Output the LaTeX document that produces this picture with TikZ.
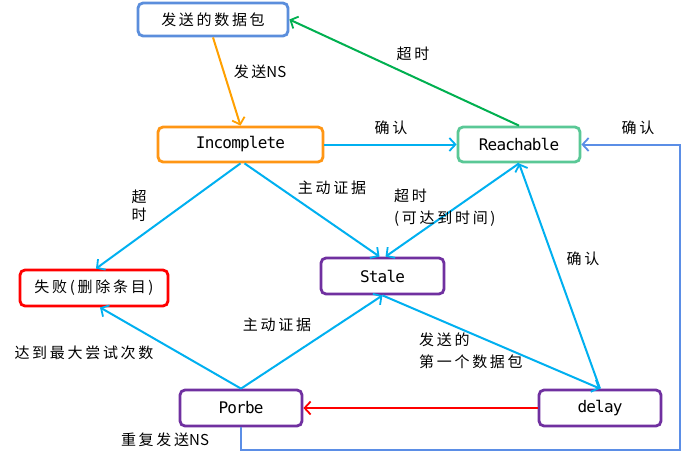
\documentclass[tikz,border=0pt]{standalone}
\usepackage{fontspec}
\setmainfont{Noto Sans CJK SC}[LetterSpace=18]
\newfontfamily\plainfnt{Noto Sans CJK SC}
\newfontfamily\monofnt{DejaVu Sans Mono}[LetterSpace=-5]
\usetikzlibrary{arrows.meta}
\definecolor{cPkt}{RGB}{91,142,220}
\definecolor{cInc}{RGB}{255,150,20}
\definecolor{cReach}{RGB}{90,200,150}
\definecolor{cFail}{RGB}{255,0,0}
\definecolor{cPur}{RGB}{112,48,160}
\definecolor{cEdge}{RGB}{0,176,240}
\definecolor{cGreen}{RGB}{0,176,80}
\definecolor{cOrange}{RGB}{255,160,0}
\definecolor{cFeed}{RGB}{91,142,230}
\tikzset{
  state/.style={draw, rounded corners=5pt, line width=2.8pt, fill=white, inner sep=0pt, font=\fontsize{15}{16}\selectfont},
  latinst/.style={state, font=\monofnt\fontsize{16}{16}\selectfont},
  edge/.style={line width=2pt, draw=cEdge, -{Straight Barb[length=6pt,width=13pt,line width=1.8pt]}},
  lbl/.style={font=\fontsize{15}{22}\selectfont, inner sep=0pt}
}
\begin{document}
\begin{tikzpicture}[x=1pt,y=-1pt]
\useasboundingbox[fill=white] (0,0) rectangle (683,459);
% nodes
\node[state, draw=cPkt, minimum width=150pt, minimum height=33pt] (pkt) at (213,19.5) {发送的数据包};
\node[latinst, draw=cInc, minimum width=165pt, minimum height=35pt] (inc) at (240.5,144.5) {Incomplete};
\node[latinst, draw=cReach, minimum width=122pt, minimum height=35pt] (reach) at (519,144.5) {Reachable};
\node[state, draw=cFail, minimum width=148pt, minimum height=36pt] (fail) at (94,288) {失败(删除条目)};
\node[latinst, draw=cPur, minimum width=123pt, minimum height=36pt] (stale) at (382.5,276) {Stale};
\node[latinst, draw=cPur, minimum width=122pt, minimum height=36pt] (porbe) at (241,408) {Porbe};
\node[latinst, draw=cPur, minimum width=122pt, minimum height=36pt] (delay) at (600,408) {delay};
\coordinate (corner) at (680,450);
% edges
\draw[edge, draw=cOrange] (pkt.south) -- (inc.north);
\draw[edge, draw=cGreen] (reach.north) -- (pkt.east);
\draw[edge] (inc.east) -- (reach.west);
\draw[edge] (inc.south) -- ([xshift=2pt]fail.north);
\draw[edge] ([xshift=4pt]inc.south) -- ([xshift=-3pt]stale.north);
\draw[edge] (reach.south) -- ([xshift=3pt]stale.north);
\draw[edge] (delay.north) -- (reach.south);
\draw[edge] (stale.south) -- (delay.north);
\draw[edge] (porbe.north) -- (stale.south);
\draw[edge] (porbe.north) -- ([xshift=6pt]fail.south);
\draw[edge, draw=cFail] (delay.west) -- (porbe.east);
\draw[edge, draw=cFeed] (porbe.south) |- (corner) |- (reach.east);
% labels
\node[lbl] (l1) at (260,72) {发送{\plainfnt NS}};
\node[lbl] (l2) at (413,54) {超时};
\node[lbl] (l3) at (391,128) {确认};
\node[lbl, align=center, font=\fontsize{15}{18}\selectfont] (l4) at (139,206) {超\\时};
\node[lbl] (l5) at (332,188) {主动证据};
\node[lbl, align=left, anchor=west] (l6) at (394,208) {超时\\(可达到时间)};
\node[lbl] (l7) at (583,259) {确认};
\node[lbl] (l8) at (638,128) {确认};
\node[lbl, align=left, anchor=west] (l9) at (419,351) {发送的\\第一个数据包};
\node[lbl] (l10) at (277,325) {主动证据};
\node[lbl] (l11) at (84,353) {达到最大尝试次数};
\node[lbl] (l12) at (165,440) {重复发送{\plainfnt NS}};
\end{tikzpicture}
\end{document}
